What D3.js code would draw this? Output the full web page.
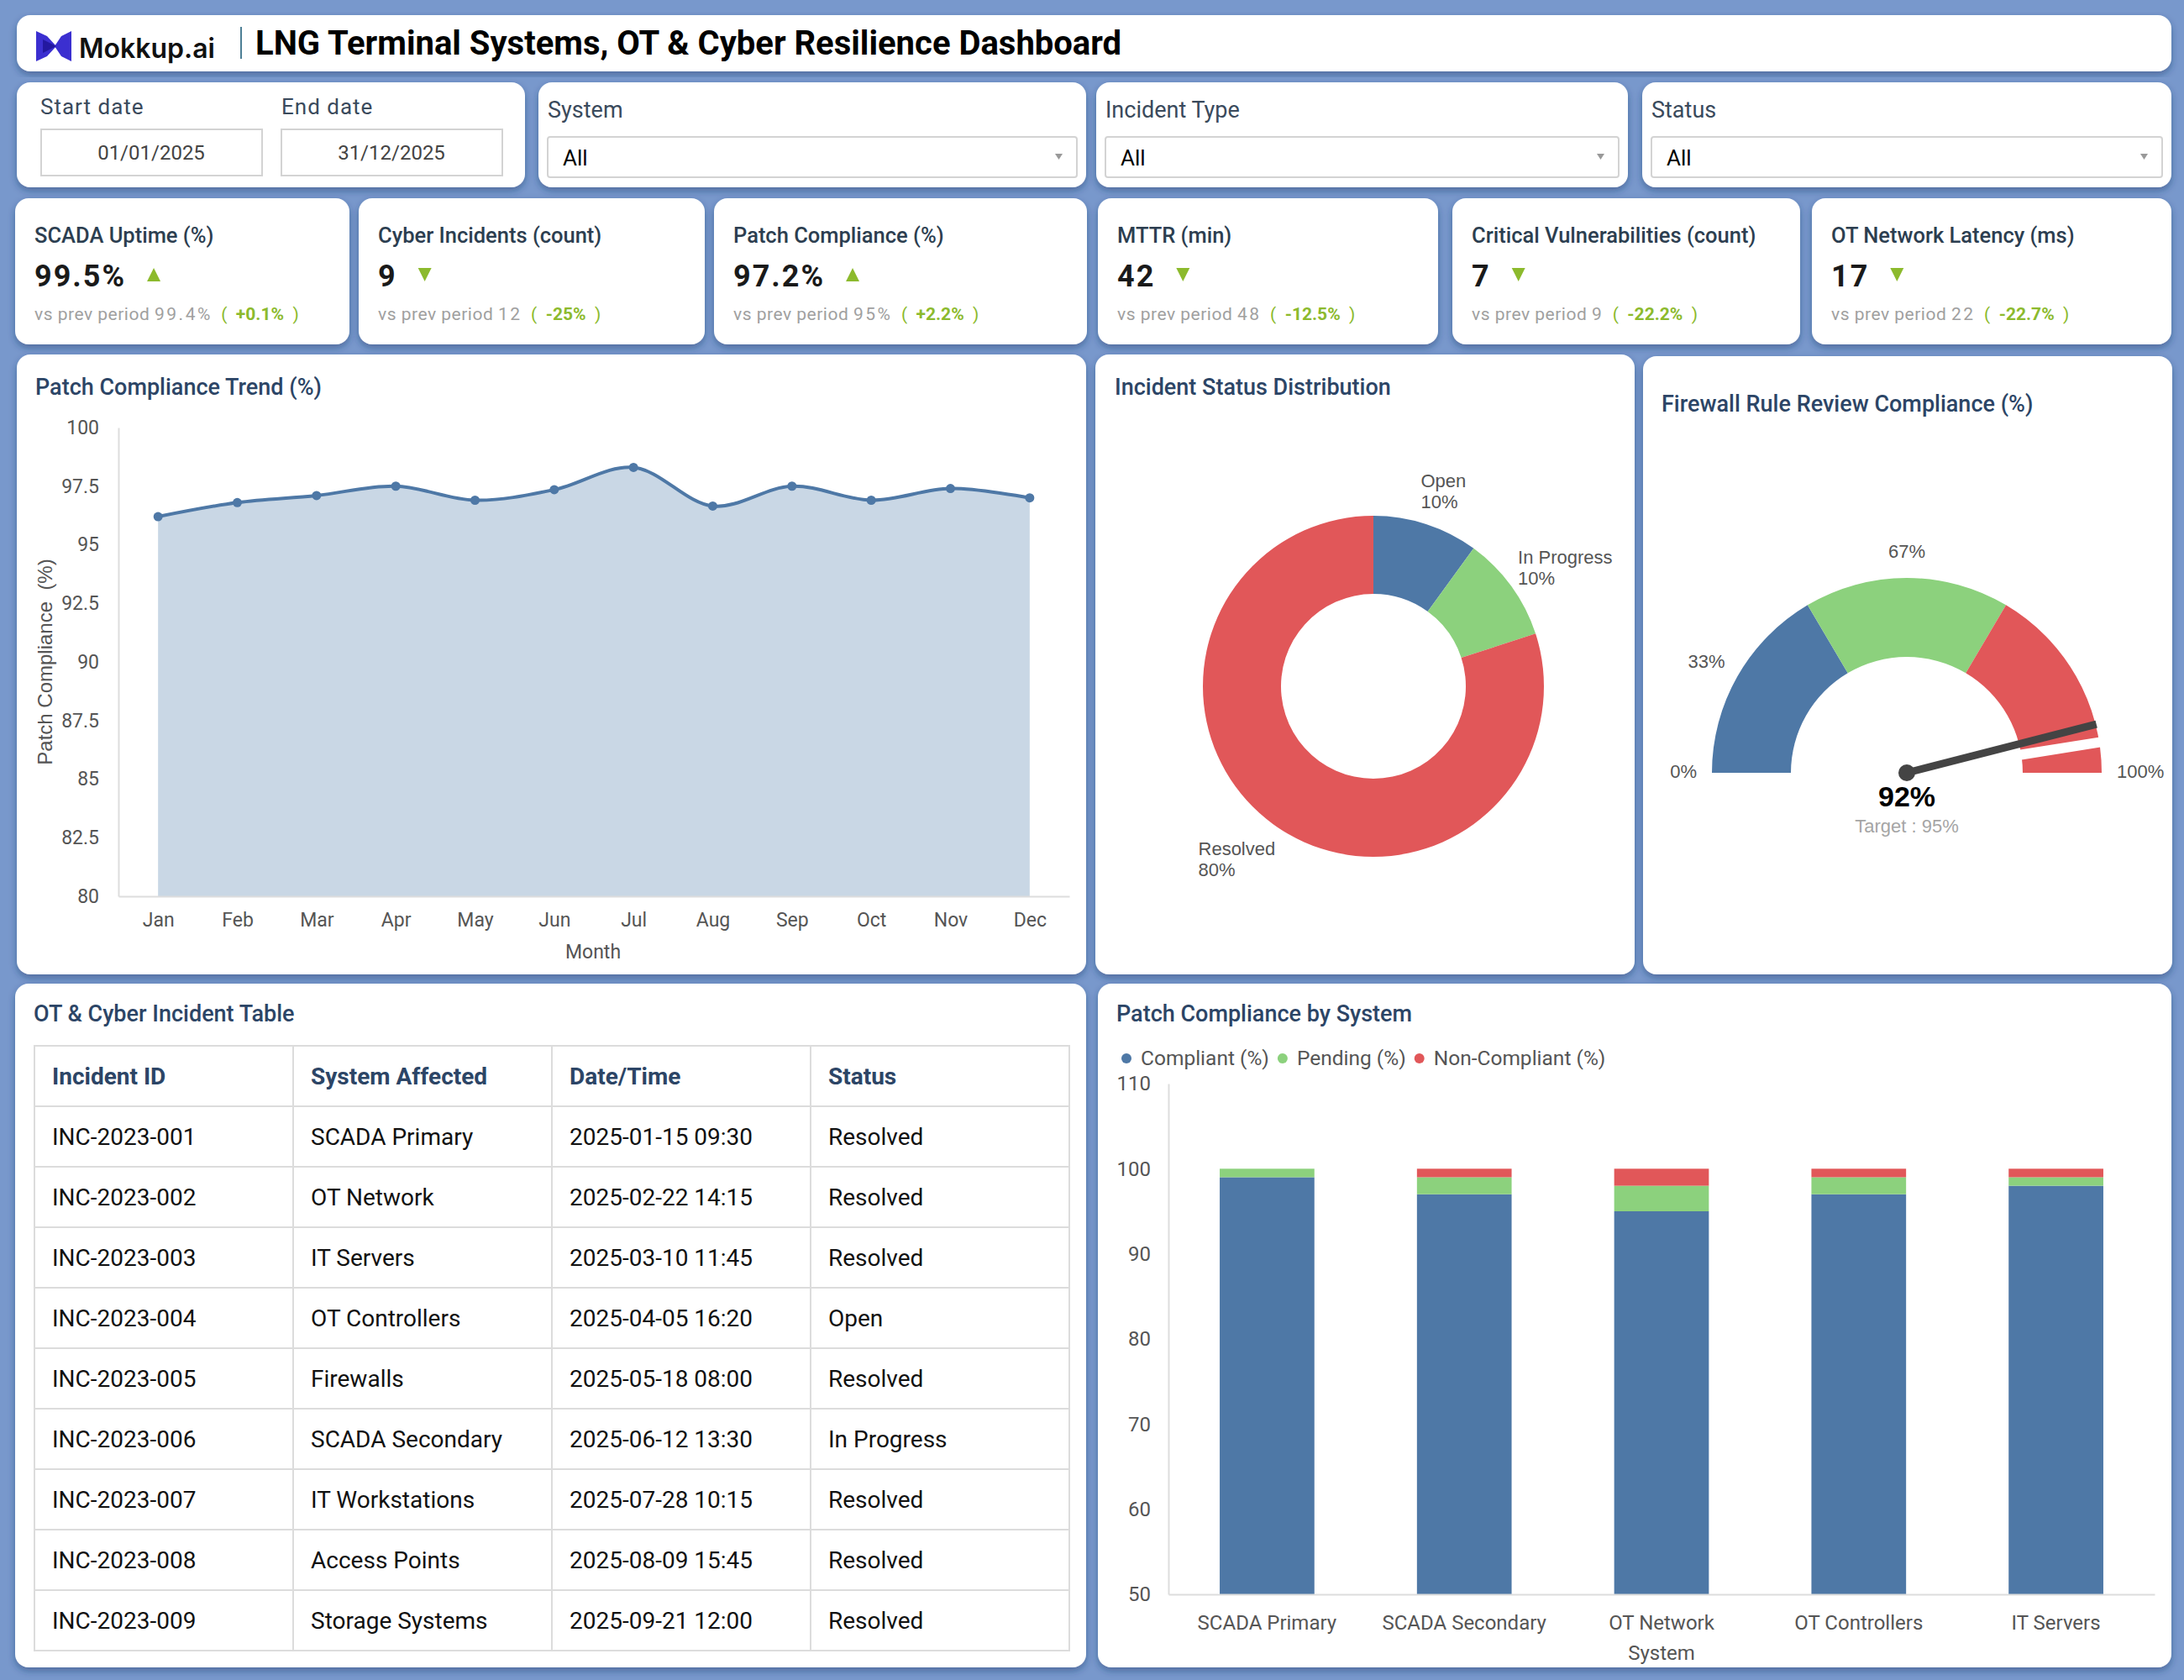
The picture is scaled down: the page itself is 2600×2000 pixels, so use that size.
<!DOCTYPE html>
<html>
<head>
<meta charset="utf-8">
<script src="https://cdn.jsdelivr.net/npm/d3@7"></script>
<style>
  body { margin: 0; background: #7898cc; }
  svg { display: block; font-family: Roboto, "Noto Sans", sans-serif; }
</style>
</head>
<body>
<svg id="dash"></svg>
<script>
// ---------- data ----------
const dashTitle = "LNG Terminal Systems, OT & Cyber Resilience Dashboard";
const filterNames = ["System", "Incident Type", "Status"];
const startDate = "01/01/2025";
const endDate = "31/12/2025";

const kpiTitles = ["SCADA Uptime (%)", "Cyber Incidents (count)", "Patch Compliance (%)",
                   "MTTR (min)", "Critical Vulnerabilities (count)", "OT Network Latency (ms)"];
const kpiValues = ["99.5%", "9", "97.2%", "42", "7", "17"];
const kpiPrev = ["99.4%", "12", "95%", "48", "9", "22"];
const kpiDelta = ["+0.1%", "-25%", "+2.2%", "-12.5%", "-22.2%", "-22.7%"];
const kpiUp = [true, false, true, false, false, false];

const months = ["Jan", "Feb", "Mar", "Apr", "May", "Jun", "Jul", "Aug", "Sep", "Oct", "Nov", "Dec"];
const trendValues = [96.2, 96.8, 97.1, 97.5, 96.9, 97.35, 98.3, 96.65, 97.5, 96.9, 97.4, 97.0];
const trendTicks = [80, 82.5, 85, 87.5, 90, 92.5, 95, 97.5, 100];

const statusNames = ["Open", "In Progress", "Resolved"];
const statusShares = [10, 10, 80];

const gaugeValue = 92;
const gaugeTarget = 95;
const gaugeBands = [0, 33, 67, 100];
const gaugeLabels = ["0%", "33%", "67%", "100%"];
const gaugeLabelAt = [0, 16.7, 50, 100];   // where the dial labels sit, in % of the dial

const tableCols = ["Incident ID", "System Affected", "Date/Time", "Status"];
const incidentIds = ["INC-2023-001", "INC-2023-002", "INC-2023-003", "INC-2023-004", "INC-2023-005",
                     "INC-2023-006", "INC-2023-007", "INC-2023-008", "INC-2023-009"];
const incidentSystems = ["SCADA Primary", "OT Network", "IT Servers", "OT Controllers", "Firewalls",
                         "SCADA Secondary", "IT Workstations", "Access Points", "Storage Systems"];
const incidentTimes = ["2025-01-15 09:30", "2025-02-22 14:15", "2025-03-10 11:45", "2025-04-05 16:20",
                       "2025-05-18 08:00", "2025-06-12 13:30", "2025-07-28 10:15", "2025-08-09 15:45",
                       "2025-09-21 12:00"];
const incidentStatus = ["Resolved", "Resolved", "Resolved", "Open", "Resolved", "In Progress",
                        "Resolved", "Resolved", "Resolved"];

const systems = ["SCADA Primary", "SCADA Secondary", "OT Network", "OT Controllers", "IT Servers"];
const compliant = [99, 97, 95, 97, 98];
const pending = [1, 2, 3, 2, 1];
const nonCompliant = [0, 1, 2, 1, 1];
const barKeys = ["Compliant (%)", "Pending (%)", "Non-Compliant (%)"];
const barTicks = [50, 60, 70, 80, 90, 100, 110];

// ---------- colours ----------
const BLUE = "#4e78a6", GREEN = "#8cd17d", RED = "#e15759";
const NAVY = "#2c4566", GRAY = "#555";
const UPGREEN = "#8cba2d";
const ARIAL = "'Liberation Sans', Arial, sans-serif";

let svg = d3.select("#dash").attr("width", 2600).attr("height", 2000);
let defs = svg.append("defs");
defs.append("filter").attr("id", "shadow")
    .attr("x", "-5%").attr("y", "-5%").attr("width", "110%").attr("height", "115%")
    .append("feDropShadow")
    .attr("dx", 0).attr("dy", 4).attr("stdDeviation", 4)
    .attr("flood-color", "#1d3566").attr("flood-opacity", 0.45);

svg.append("rect").attr("width", 2600).attr("height", 2000).attr("fill", "#7898cc");

function card(x, y, w, h) {
    svg.append("rect")
        .attr("x", x).attr("y", y).attr("width", w).attr("height", h)
        .attr("rx", 16).attr("fill", "#fff").attr("filter", "url(#shadow)");
}

function label(x, y, txt, size, color, weight, anchor) {
    return svg.append("text")
        .attr("x", x).attr("y", y)
        .attr("font-size", size).attr("fill", color)
        .attr("font-weight", weight || 400)
        .attr("text-anchor", anchor || "start")
        .text(txt);
}

// ---------- header ----------
card(20, 18, 2565, 67);
svg.append("path")
    .attr("transform", "translate(43,37)")
    .attr("d", "M0,0 L13,6 L24,18 L13,30 L0,36 Z M42,0 L42,36 L30,30 L22,18 L30,6 Z")
    .attr("fill", "#3b2fd0");
svg.append("path")
    .attr("transform", "translate(43,37)")
    .attr("d", "M8,10 L24,18 L8,26 Z")
    .attr("fill", "#2318a0");
label(94, 69, "Mokkup.ai", 32, "#111", 600).attr("font-family", "Inter, Roboto, sans-serif");
svg.append("line").attr("x1", 287).attr("x2", 287).attr("y1", 32).attr("y2", 70)
    .attr("stroke", "#4d7f95").attr("stroke-width", 2);
label(304, 65, dashTitle, 40, "#000", 700);

// ---------- filters ----------
card(20, 98, 605, 125);
label(48, 136, "Start date", 26, "#3a4a5c").attr("letter-spacing", 1);
label(335, 136, "End date", 26, "#3a4a5c").attr("letter-spacing", 1);
[[49, startDate], [335, endDate]].forEach(([x, t]) => {
    svg.append("rect").attr("x", x).attr("y", 154).attr("width", 263).attr("height", 55)
        .attr("fill", "#fff").attr("stroke", "#d3d3d3").attr("stroke-width", 2);
    label(x + 131, 190, t, 24, "#444", 400, "middle");
});

const filterCards = [[641, 652], [1305, 633], [1955, 630]];
filterCards.forEach(([x, w], i) => {
    card(x, 98, w, 125);
    label(x + 11, 140, filterNames[i], 27, "#3a4a5c");
    svg.append("rect").attr("x", x + 11).attr("y", 163).attr("width", w - 22).attr("height", 48)
        .attr("rx", 3).attr("fill", "#fff").attr("stroke", "#d3d3d3").attr("stroke-width", 2);
    label(x + 29, 197, "All", 26, "#000");
    let ax = x + w - 37;
    svg.append("path").attr("d", `M${ax},183 L${ax + 9},183 L${ax + 4.5},190 Z`).attr("fill", "#999");
});

// ---------- KPI cards ----------
const kpiBoxes = [[18, 398], [427, 412], [850, 444], [1307, 405], [1729, 414], [2157, 428]];
kpiBoxes.forEach(([x, w], i) => {
    card(x, 236, w, 174);
    let tx = x + 23;
    label(tx, 289, kpiTitles[i], 25.5, "#2c3e50", 500);
    let v = label(tx, 341, kpiValues[i], 36, "#1a1a1a", 700).attr("letter-spacing", 2);
    let vw = v.node().getComputedTextLength();
    let ax = tx + vw + 25, ay = 327;
    svg.append("path")
        .attr("d", kpiUp[i]
            ? `M${ax},${ay + 8} L${ax + 16},${ay + 8} L${ax + 8},${ay - 8} Z`
            : `M${ax},${ay - 8} L${ax + 16},${ay - 8} L${ax + 8},${ay + 8} Z`)
        .attr("fill", UPGREEN);
    let t = svg.append("text").attr("x", tx).attr("y", 381).attr("font-size", 21)
        .style("white-space", "pre");
    t.append("tspan").attr("fill", "#a0a0a0").attr("letter-spacing", 0.5).text("vs prev period ");
    t.append("tspan").attr("fill", "#a0a0a0").attr("letter-spacing", 2.5).text(kpiPrev[i]);
    t.append("tspan").attr("fill", UPGREEN).text("  (  ");
    t.append("tspan").attr("fill", UPGREEN).attr("font-weight", 700).text(kpiDelta[i]);
    t.append("tspan").attr("fill", UPGREEN).text("  )");
});

// ---------- patch compliance trend ----------
card(20, 422, 1273, 738);
label(42, 470, "Patch Compliance Trend (%)", 27, NAVY, 500);

let xTrend = d3.scalePoint().domain(months).range([141, 1273]).padding(0.5);
let yTrend = d3.scaleLinear().domain([80, 100]).range([1067, 509]);
let trendCurve = d3.curveCatmullRom.alpha(0.5);

svg.append("path").datum(trendValues)
    .attr("d", d3.area()
        .x((d, i) => xTrend(months[i]))
        .y0(yTrend(80))
        .y1(d => yTrend(d))
        .curve(trendCurve))
    .attr("fill", "#c9d7e5");
svg.append("path").datum(trendValues)
    .attr("d", d3.line()
        .x((d, i) => xTrend(months[i]))
        .y(d => yTrend(d))
        .curve(trendCurve))
    .attr("fill", "none").attr("stroke", BLUE).attr("stroke-width", 4);
svg.append("g").selectAll("circle")
    .data(trendValues).enter().append("circle")
    .attr("cx", (d, i) => xTrend(months[i]))
    .attr("cy", d => yTrend(d))
    .attr("r", 5.5).attr("fill", BLUE);

let yAxisTrend = svg.append("g").attr("transform", "translate(141,0)")
    .call(d3.axisLeft(yTrend).tickValues(trendTicks).tickSize(0).tickPadding(23).tickFormat(d3.format("")));
let xAxisTrend = svg.append("g").attr("transform", "translate(0,1067)")
    .call(d3.axisBottom(xTrend).tickSize(0).tickPadding(20));
[yAxisTrend, xAxisTrend].forEach(a => {
    a.select(".domain").attr("stroke", "#dddddd").attr("stroke-width", 2);
    a.selectAll("text").attr("font-size", 23).attr("fill", GRAY).attr("font-family", "Roboto, sans-serif");
});
label(706, 1141, "Month", 23, GRAY, 400, "middle");
svg.append("text")
    .attr("transform", "translate(62,788) rotate(-90)")
    .attr("text-anchor", "middle").attr("font-size", 24).attr("fill", GRAY)
    .attr("font-family", ARIAL)
    .style("white-space", "pre")
    .text("Patch Compliance  (%)");

// ---------- incident status donut ----------
card(1304, 422, 642, 738);
label(1327, 470, "Incident Status Distribution", 27, NAVY, 500);

let donutC = [1635, 817];
let pie = d3.pie().sort(null).value(d => d.share);
let slices = pie(statusNames.map((n, i) => ({ name: n, share: statusShares[i] })));
let arc = d3.arc().innerRadius(110).outerRadius(203);
let statusColor = d3.scaleOrdinal().domain(statusNames).range([BLUE, GREEN, RED]);
let gDonut = svg.append("g").attr("transform", `translate(${donutC})`);
gDonut.selectAll("path").data(slices).enter().append("path")
    .attr("d", arc).attr("fill", d => statusColor(d.data.name));

// labels sit on a slightly flattened ring round the donut
slices.forEach(s => {
    let a = (s.startAngle + s.endAngle) / 2;
    let sa = Math.sin(a);
    let lx = 262 * sa + 25 * sa * Math.abs(sa);
    let ly = -249 * Math.cos(a);
    let t = gDonut.append("text")
        .attr("font-size", 22).attr("fill", GRAY)
        .attr("font-family", ARIAL);
    t.append("tspan").attr("x", 0).attr("y", ly).text(s.data.name);
    t.append("tspan").attr("x", 0).attr("y", ly + 25).text(s.data.share + "%");
    let bw = t.node().getBBox().width;
    t.attr("transform", `translate(${lx - bw / 2},0)`);
});

// ---------- firewall gauge ----------
card(1956, 424, 630, 736);
label(1978, 490, "Firewall Rule Review Compliance (%)", 27, NAVY, 500);

let gc = [2270, 920];
let gAngle = d3.scaleLinear().domain([0, 100]).range([-Math.PI / 2, Math.PI / 2]);
let gGauge = svg.append("g").attr("transform", `translate(${gc})`);
let gaugeArc = d3.arc().innerRadius(138).outerRadius(232);
let bandColors = [BLUE, GREEN, RED];
gGauge.selectAll("path.band")
    .data(d3.pairs(gaugeBands)).enter().append("path")
    .attr("class", "band")
    .attr("d", d => gaugeArc({ startAngle: gAngle(d[0]), endAngle: gAngle(d[1]) }))
    .attr("fill", (d, i) => bandColors[i]);

// target notch
let ta = gAngle(gaugeTarget);
gGauge.append("line")
    .attr("x1", 128 * Math.sin(ta)).attr("y1", -128 * Math.cos(ta))
    .attr("x2", 245 * Math.sin(ta)).attr("y2", -245 * Math.cos(ta))
    .attr("stroke", "#fff").attr("stroke-width", 12);

// needle
let na = gAngle(gaugeValue);
gGauge.append("line")
    .attr("x1", 0).attr("y1", 0)
    .attr("x2", 233 * Math.sin(na)).attr("y2", -233 * Math.cos(na))
    .attr("stroke", "#444").attr("stroke-width", 9);
gGauge.append("circle").attr("r", 10).attr("fill", "#444");

gaugeLabels.forEach((l, i) => {
    let a = Math.PI * gaugeLabelAt[i] / 100;  // 0 = left, PI = right
    let px = -250 * Math.cos(a), py = -250 * Math.sin(a);
    let c = Math.cos(a);
    gGauge.append("text")
        .attr("x", px).attr("y", py + 6 - 12 * Math.sin(a))
        .attr("text-anchor", c > 0.1 ? "end" : (c < -0.1 ? "start" : "middle"))
        .attr("font-size", 22).attr("fill", GRAY)
        .attr("font-family", ARIAL)
        .text(l);
});
gGauge.append("text").attr("y", 40).attr("text-anchor", "middle")
    .attr("font-size", 34).attr("font-weight", 700).attr("fill", "#000")
    .attr("font-family", ARIAL)
    .text(gaugeValue + "%");
gGauge.append("text").attr("y", 71).attr("text-anchor", "middle")
    .attr("font-size", 22).attr("fill", "#a5a5a5")
    .attr("font-family", ARIAL)
    .text("Target : " + gaugeTarget + "%");

// ---------- incident table ----------
card(18, 1171, 1275, 814);
label(40, 1216, "OT & Cyber Incident Table", 27, NAVY, 500);

let tableRows = incidentIds.map((id, i) => [id, incidentSystems[i], incidentTimes[i], incidentStatus[i]]);
let colX = d3.scaleBand().domain(tableCols).range([41, 1273]);
let rowY = d3.scaleBand().domain(d3.range(tableRows.length + 1)).range([1245, 1965]);
let gTable = svg.append("g");
gTable.append("rect").attr("x", 41).attr("y", 1245).attr("width", 1232).attr("height", 720)
    .attr("fill", "none").attr("stroke", "#dcdcdc").attr("stroke-width", 2);
tableCols.slice(1).forEach(c => {
    gTable.append("line").attr("x1", colX(c)).attr("x2", colX(c)).attr("y1", 1245).attr("y2", 1965)
        .attr("stroke", "#dcdcdc").attr("stroke-width", 2);
});
d3.range(1, tableRows.length + 1).forEach(r => {
    gTable.append("line").attr("x1", 41).attr("x2", 1273).attr("y1", rowY(r)).attr("y2", rowY(r))
        .attr("stroke", "#dcdcdc").attr("stroke-width", 2);
});
tableCols.forEach(c => {
    gTable.append("text").attr("x", colX(c) + 21).attr("y", rowY(0) + rowY.bandwidth() / 2 + 10)
        .attr("font-size", 28).attr("font-weight", 700).attr("fill", NAVY).text(c);
});
tableRows.forEach((row, r) => {
    row.forEach((v, j) => {
        gTable.append("text").attr("x", colX(tableCols[j]) + 21)
            .attr("y", rowY(r + 1) + rowY.bandwidth() / 2 + 10)
            .attr("font-size", 28).attr("fill", "#111").text(v);
    });
});

// ---------- patch compliance by system ----------
card(1307, 1171, 1278, 814);
label(1329, 1216, "Patch Compliance by System", 27, NAVY, 500);

let barColor = d3.scaleOrdinal().domain(barKeys).range([BLUE, GREEN, RED]);
let legendCursor = 1341;
barKeys.forEach(k => {
    svg.append("circle").attr("cx", legendCursor).attr("cy", 1260).attr("r", 6).attr("fill", barColor(k));
    let lt = label(legendCursor + 17, 1268, k, 24.5, GRAY);
    legendCursor += 17 + lt.node().getComputedTextLength() + 16;
});

let barRows = systems.map((s, i) => ({
    system: s,
    "Compliant (%)": compliant[i],
    "Pending (%)": pending[i],
    "Non-Compliant (%)": nonCompliant[i]
}));
let stack = d3.stack().keys(barKeys)(barRows);
let xBar = d3.scaleBand().domain(systems).range([1391, 2565]).paddingInner(0.52).paddingOuter(0.26);
let yBar = d3.scaleLinear().domain([50, 110]).range([1898, 1290]);

let gBars = svg.append("g");
gBars.selectAll("g").data(stack).enter().append("g")
    .attr("fill", d => barColor(d.key))
    .selectAll("rect").data(d => d).enter().append("rect")
    .attr("x", d => xBar(d.data.system))
    .attr("width", xBar.bandwidth())
    .attr("y", d => yBar(Math.max(d[1], 50)))
    .attr("height", d => yBar(Math.max(d[0], 50)) - yBar(Math.max(d[1], 50)));

let yAxisBar = svg.append("g").attr("transform", "translate(1391,0)")
    .call(d3.axisLeft(yBar).tickValues(barTicks).tickSize(0).tickPadding(21));
let xAxisBar = svg.append("g").attr("transform", "translate(0,1898)")
    .call(d3.axisBottom(xBar).tickSize(0).tickSizeOuter(0).tickPadding(25));
[yAxisBar, xAxisBar].forEach(a => {
    a.select(".domain").attr("stroke", "#dddddd").attr("stroke-width", 2);
    a.selectAll("text").attr("font-size", 24).attr("fill", GRAY).attr("font-family", "Roboto, sans-serif");
});
label(1978, 1976, "System", 24, GRAY, 400, "middle");
</script>
</body>
</html>
